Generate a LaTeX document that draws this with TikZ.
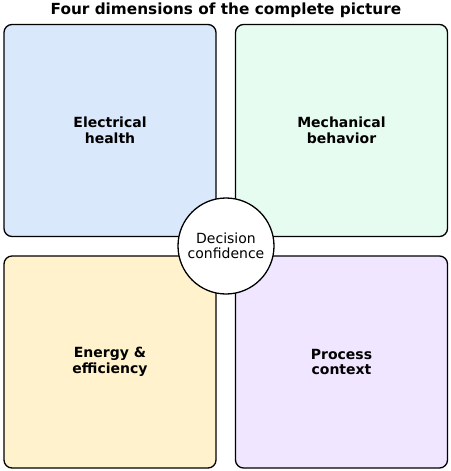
\documentclass[tikz,border=0pt]{standalone}
\usepackage{fontspec}
\setmainfont{DejaVu Sans}
\begin{document}
\begin{tikzpicture}[x=1pt, y=-1pt, every node/.append style={font=\fontsize{14}{15.5}\selectfont},
  dimBox/.style={draw, line width=1.3pt, rounded corners=8pt, minimum width=212pt, minimum height=212pt, align=center, font=\fontsize{14}{15.5}\selectfont\bfseries}]
\useasboundingbox (0,0) rectangle (450,471);

% title
\node[font=\fontsize{15.3}{18}\selectfont\bfseries] (title) at (226,10) {Four dimensions of the complete picture};

% dimensions
\node[dimBox, fill={rgb,255:red,218;green,232;blue,252}] (elecHealth) at (110,130.5) {Electrical\\health};
\node[dimBox, fill={rgb,255:red,230;green,252;blue,240}] (mechBehavior) at (341.5,130.5) {Mechanical\\behavior};
\node[dimBox, fill={rgb,255:red,255;green,242;blue,204}] (energyEff) at (110,362) {Energy \&\\efficiency};
\node[dimBox, fill={rgb,255:red,240;green,230;blue,255}] (procContext) at (341.5,362) {Process\\context};

% center
\node[draw, circle, line width=1.3pt, fill=white, minimum size=96pt, align=center] (decision) at (226,246) {Decision\\confidence};

\end{tikzpicture}
\end{document}
